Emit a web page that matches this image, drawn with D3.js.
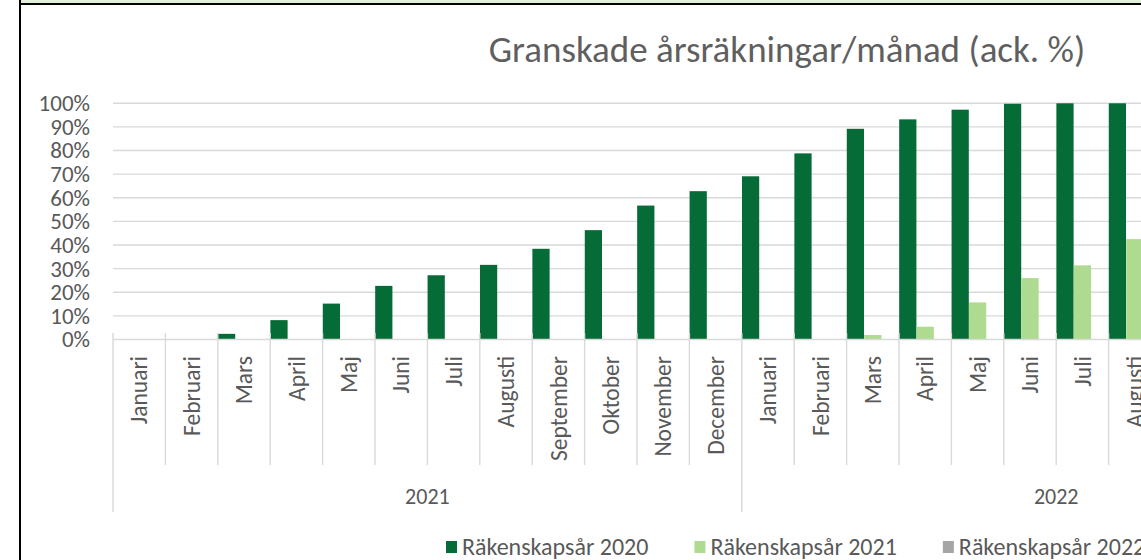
<!DOCTYPE html>
<html>
<head>
<meta charset="utf-8">
<script src="https://cdn.jsdelivr.net/npm/d3@7"></script>
<style>
  body { margin: 0; background: #fff; }
  svg { display: block; overflow: hidden; }
  text { font-family: Carlito, Calibri, Lato, sans-serif; fill: #595959; }
</style>
</head>
<body>
<script>
// months on the x axis (two fiscal years shown, chart runs past the right edge)
var months = ["Januari", "Februari", "Mars", "April", "Maj", "Juni", "Juli", "Augusti",
              "September", "Oktober", "November", "December"];
var years = ["2021", "2022"];
var seriesNames = ["Räkenskapsår 2020", "Räkenskapsår 2021", "Räkenskapsår 2022"];
var seriesColors = ["#056b37", "#aedb8f", "#a5a5a5"];
var yTicks = [0, 10, 20, 30, 40, 50, 60, 70, 80, 90, 100];

// accumulated % per month, null = not visible in the picture
var fy2020 = [0, 0.2, 2.4, 8.2, 15.2, 22.7, 27.2, 31.6, 38.4, 46.3, 56.7, 62.8,
              69.1, 78.8, 89.2, 93.2, 97.3, 99.8, 100, 100, null, null, null, null];
var fy2021 = [0, 0, 0, 0, 0, 0, 0, 0, 0, 0, 0, 0,
              0, 0, 1.9, 5.4, 15.7, 26.0, 31.4, 42.5, null, null, null, null];
var fy2022 = [0, 0, 0, 0, 0, 0, 0, 0, 0, 0, 0, 0,
              0, 0, 0, 0, 0, 0, 0, 0, null, null, null, null];

var W = 1141, H = 560;
var categories = [];
years.forEach(function(y) {
  months.forEach(function(m) { categories.push({year: y, month: m, key: y + "-" + m}); });
});
var table = categories.map(function(c, i) {
  return {key: c.key, values: [fy2020[i], fy2021[i], fy2022[i]]};
});

var svg = d3.select("body").append("svg")
    .attr("width", W)
    .attr("height", H);

// frame: green strip + border, like a cropped excel sheet
svg.append("rect").attr("x", 20).attr("y", 0).attr("width", W).attr("height", 4).attr("fill", "#e2efda");
svg.append("line").attr("x1", 19).attr("x2", W).attr("y1", 4).attr("y2", 4)
    .attr("stroke", "#000").attr("stroke-width", 2);
svg.append("line").attr("x1", 20).attr("x2", 20).attr("y1", 0).attr("y2", H)
    .attr("stroke", "#000").attr("stroke-width", 2);

var step = 52.4;
var x0 = d3.scaleBand()
    .domain(categories.map(function(c) { return c.key; }))
    .range([113, 113 + step * categories.length])
    .paddingInner(0).paddingOuter(0);

var x1 = d3.scaleBand()
    .domain(d3.range(seriesNames.length))
    .range([0, x0.bandwidth()])
    .padding(0.01);

var y = d3.scaleLinear().domain([0, 100]).range([339.5, 103.3]);

// gridlines
svg.append("g").attr("class", "grid")
  .selectAll("line")
    .data(yTicks.slice(1))
  .enter().append("line")
    .attr("x1", 113).attr("x2", W)
    .attr("y1", function(d) { return y(d); })
    .attr("y2", function(d) { return y(d); })
    .attr("stroke", "#d9d9d9").attr("stroke-width", 1.4);

// y axis labels
var yAxis = d3.axisLeft(y).tickValues(yTicks).tickSize(0).tickPadding(0)
    .tickFormat(function(d) { return d + "%"; });
svg.append("g")
    .attr("transform", "translate(90,0)")
    .call(yAxis)
    .call(function(g) { g.select(".domain").remove(); })
    .selectAll("text")
    .attr("font-size", "23px")
    .attr("fill", "#595959");

// bars
svg.append("g")
  .selectAll("g")
    .data(table)
  .enter().append("g")
    .attr("transform", function(d) { return "translate(" + x0(d.key) + ",0)"; })
  .selectAll("rect")
    .data(function(d) { return d.values.map(function(v, i) { return {i: i, v: v}; }); })
  .enter().filter(function(d) { return d.v != null && d.v > 0; }).append("rect")
    .attr("x", function(d) { return x1(d.i); })
    .attr("width", x1.bandwidth())
    .attr("y", function(d) { return y(d.v); })
    .attr("height", function(d) { return y(0) - y(d.v); })
    .attr("fill", function(d) { return seriesColors[d.i]; });

// x axis line
svg.append("line")
    .attr("x1", 113).attr("x2", W)
    .attr("y1", y(0)).attr("y2", y(0))
    .attr("stroke", "#d9d9d9").attr("stroke-width", 1.4);

// category separators
var seps = d3.range(categories.length + 1);
svg.append("g")
  .selectAll("line")
    .data(seps)
  .enter().append("line")
    .attr("x1", function(i) { return 113 + i * step; })
    .attr("x2", function(i) { return 113 + i * step; })
    .attr("y1", 333)
    .attr("y2", function(i) { return i % 12 === 0 ? 512 : 465; })
    .attr("stroke", "#d9d9d9").attr("stroke-width", 1.4);

// month labels
svg.append("g")
  .selectAll("text")
    .data(categories)
  .enter().append("text")
    .attr("transform", function(d) {
      return "translate(" + (x0(d.key) + x0.bandwidth() / 2) + ",356) rotate(-90)";
    })
    .attr("text-anchor", "end")
    .attr("dy", "0.35em")
    .attr("font-size", "23.5px")
    .text(function(d) { return d.month; });

// year labels
svg.append("g")
  .selectAll("text")
    .data(years)
  .enter().append("text")
    .attr("x", function(yr) {
      return x0(yr + "-Januari") + step * 6;
    })
    .attr("y", 504)
    .attr("text-anchor", "middle")
    .attr("font-size", "22px")
    .text(function(d) { return d; });

// title
svg.append("text")
    .attr("x", 787).attr("y", 62)
    .attr("text-anchor", "middle")
    .attr("font-size", "37px")
    .style("fill", "#5f5f5f")
    .text("Granskade årsräkningar/månad (ack. %)");

// legend
var legend = svg.append("g").attr("class", "legend");
var lx = 446;
seriesNames.forEach(function(name, i) {
  legend.append("rect")
      .attr("x", lx).attr("y", 541)
      .attr("width", 11).attr("height", 12)
      .attr("fill", seriesColors[i]);
  var t = legend.append("text")
      .attr("x", lx + 16).attr("y", 547)
      .attr("dy", "0.35em")
      .attr("font-size", "24px")
      .text(name);
  lx += 16 + t.node().getComputedTextLength() + 46;
});
</script>
</body>
</html>
